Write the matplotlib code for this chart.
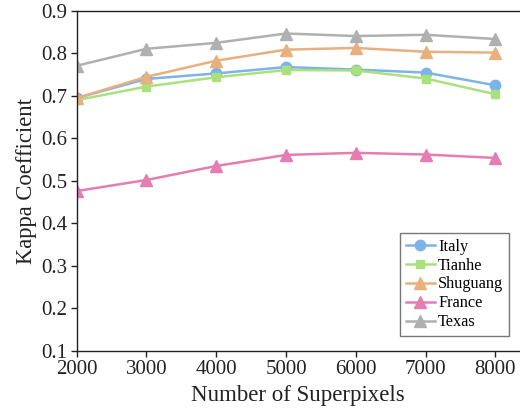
import matplotlib
matplotlib.use("Agg")
import matplotlib.pyplot as plt

plt.rcParams['font.family'] = ['Liberation Serif', 'DejaVu Serif']

superpixels = [2000, 3000, 4000, 5000, 6000, 7000, 8000]
italy = [0.695, 0.740, 0.753, 0.768, 0.762, 0.755, 0.725]
tianhe = [0.690, 0.722, 0.744, 0.761, 0.760, 0.741, 0.704]
shuguang = [0.695, 0.745, 0.783, 0.809, 0.813, 0.804, 0.802]
france = [0.476, 0.502, 0.535, 0.561, 0.566, 0.562, 0.554]
texas = [0.771, 0.811, 0.825, 0.847, 0.841, 0.844, 0.834]

series = [
    ("Italy", italy, "#7db4e8", "o", 7.5),
    ("Tianhe", tianhe, "#abe07e", "s", 6.4),
    ("Shuguang", shuguang, "#e8b07f", "^", 8.5),
    ("France", france, "#e57db0", "^", 8.5),
    ("Texas", texas, "#b0b0b0", "^", 8.5),
]

W, H = 520, 411
left_px, bottom_px, top_px = 76.7, 350.7, 11.0
fig = plt.figure(figsize=(W / 100, H / 100), dpi=100)
ax = fig.add_axes([left_px / W, (H - bottom_px) / H, 1 - left_px / W,
                   (bottom_px - top_px) / H])

for name, vals, color, marker, ms in series:
    ax.plot(superpixels, vals, color=color, marker=marker, markersize=ms,
            linewidth=1.8, label=name)

ax.set_xlim(2000, 8354)
ax.set_ylim(0.1, 0.9)
ax.set_xticks(superpixels)
ax.set_yticks([0.1, 0.2, 0.3, 0.4, 0.5, 0.6, 0.7, 0.8, 0.9])
ax.set_yticklabels([f"{v:.1f}" for v in ax.get_yticks()])
ax.spines['right'].set_visible(False)
for s in ('left', 'bottom', 'top'):
    ax.spines[s].set_linewidth(1.0)
    ax.spines[s].set_color('#222222')
ax.tick_params(direction='out', length=4, width=1.0, labelsize=15,
               colors='#222222', pad=3)
ax.set_xlabel("Number of Superpixels", fontsize=16.5, color='#222222', labelpad=4)
ax.set_ylabel("Kappa Coefficient", fontsize=16.3, color='#222222', labelpad=3)

# legend frame: right edge at 509 px, bottom edge at 336 px
ax_w = W - left_px
ax_h = bottom_px - top_px
leg = ax.legend(loc='lower right',
                bbox_to_anchor=((509 - left_px) / ax_w, (bottom_px - 336) / ax_h),
                fontsize=11.7, frameon=True, fancybox=False, handlelength=1.8,
                handletextpad=0.2, borderpad=0.35, labelspacing=0.18,
                borderaxespad=0.0)
leg.get_frame().set_edgecolor('#555555')
leg.get_frame().set_linewidth(1.0)

fig.savefig("out.png", dpi=100)
